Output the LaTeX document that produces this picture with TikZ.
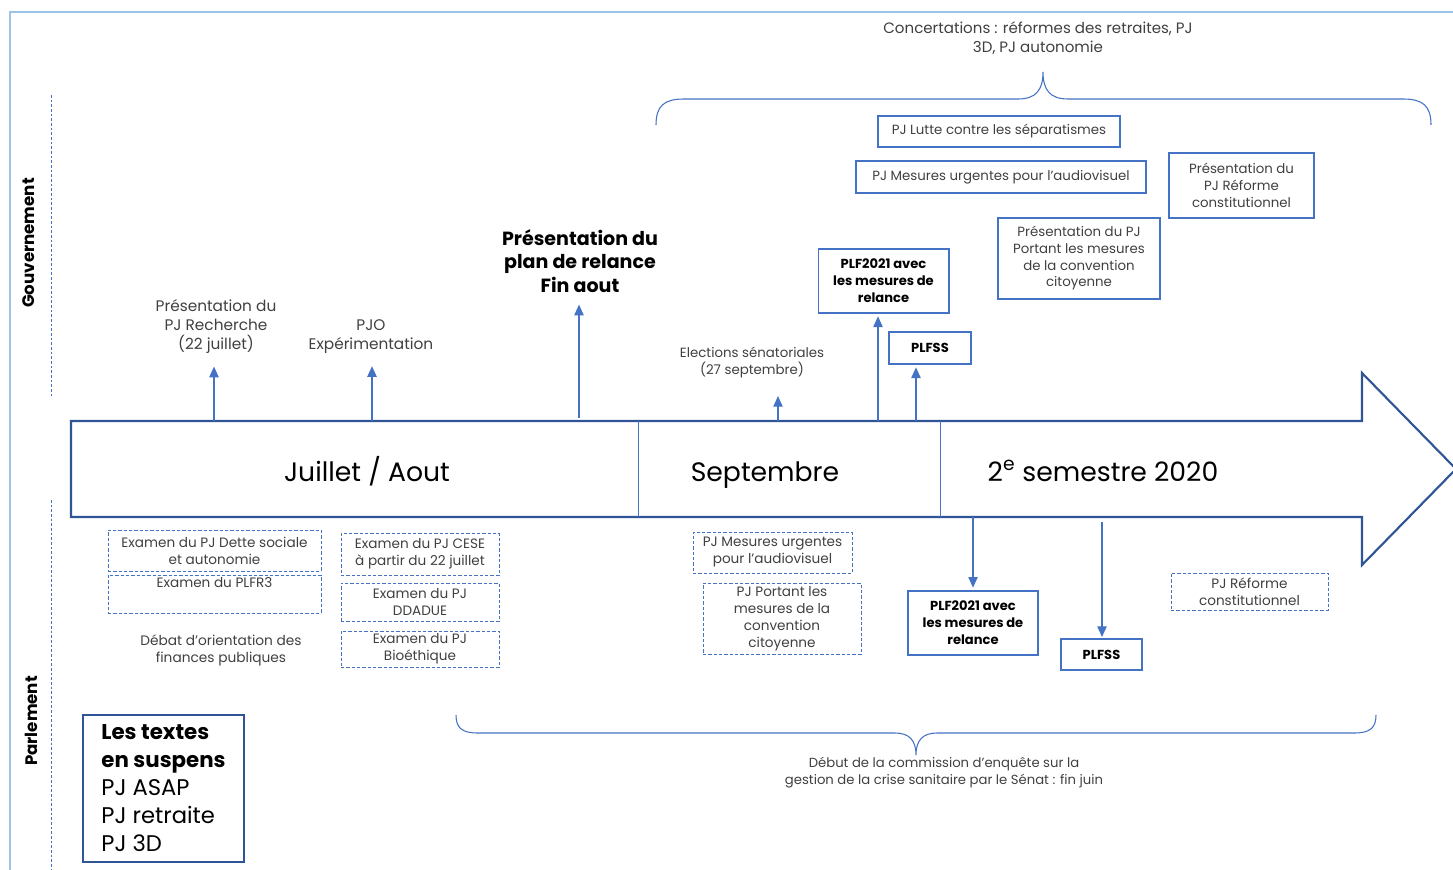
\documentclass[tikz,border=0pt]{standalone}
\usepackage{fontspec}
\setmainfont{Poppins}
\usetikzlibrary{arrows.meta}
\definecolor{frameblue}{HTML}{9DC3E6}
\definecolor{boxblue}{HTML}{4472C4}
\definecolor{arrowblue}{HTML}{2F5597}
\definecolor{txtgrey}{HTML}{404040}
\tikzset{
  lbl/.style={align=center, text=txtgrey, inner sep=0pt, font=\fontsize{11.5}{14.25}\selectfont},
  govbox/.style={draw=boxblue, line width=1pt, align=center, text=txtgrey, inner sep=1pt, font=\fontsize{10}{12.5}\selectfont},
  boldbox/.style={govbox, text=black, font=\bfseries\fontsize{9.8}{12.75}\selectfont},
  parbox/.style={draw=boxblue, line width=0.6pt, dash pattern=on 2.5pt off 1.5pt, align=center, text=txtgrey, inner sep=1pt, font=\fontsize{10.2}{12.75}\selectfont},
  month/.style={text=black, anchor=base, font=\fontsize{20}{24}\selectfont},
  side/.style={rotate=90, font=\bfseries\fontsize{12.5}{14}\selectfont},
  up/.style={draw=boxblue, line width=0.9pt, -{Triangle[length=8pt,width=7pt]}},
  brace/.style={draw=boxblue, line width=0.8pt},
}
\begin{document}
\begin{tikzpicture}[x=0.75pt, y=-0.75pt]
  \useasboundingbox (0,0) rectangle (1453,870);

  %% frame and side titles
  \draw[frameblue, line width=2.2pt] (10,870) -- (10,12) -- (1460,12);
  \draw[boxblue, line width=0.6pt, dash pattern=on 2pt off 1.5pt] (51,95) -- (51,397);
  \draw[boxblue, line width=0.6pt, dash pattern=on 2pt off 1.5pt] (51,500) -- (51,870);
  \node[side] (gouv) at (29,243) {Gouvernement};
  \node[side] (parl) at (31,721) {Parlement};

  %% the timeline arrow
  \draw[arrowblue, line width=1.6pt, fill=white] (71,421) -- (1362,421) -- (1362,373) -- (1456,469)
    -- (1362,565) -- (1362,517) -- (71,517) -- cycle;
  \draw[boxblue, line width=0.7pt] (638,421) -- (638,517);
  \draw[boxblue, line width=0.7pt] (940,421) -- (940,517);
  \node[month] (juil) at (367,481) {Juillet / Aout};
  \node[month] (sept) at (765,481) {Septembre};
  \node[month] (sem) at (1103,481) {2\textsuperscript{e} semestre 2020};

  %% Gouvernement
  \node[lbl] (rech) at (216,326) {Présentation du\\PJ Recherche\\(22 juillet)};
  \node[lbl] (pjo) at (371,337) {PJO\\Expérimentation};
  \node[lbl, text=black, font=\bfseries\fontsize{14.3}{17.5}\selectfont] (relance) at (580,261) {Présentation du\\plan de relance\\Fin aout};
  \node[lbl, font=\fontsize{10}{12.75}\selectfont] (elect) at (752,363) {Elections sénatoriales\\(27 septembre)};
  \node[boldbox, minimum width=98pt, minimum height=48pt] (plfgov) at (883.5,281) {PLF2021 avec\\les mesures de\\relance};
  \node[boldbox, minimum width=61.5pt, minimum height=24pt] (plfssgov) at (930,348) {PLFSS};
  \node[govbox, minimum width=121.5pt, minimum height=60.75pt] (convgov) at (1079,258.5) {Présentation du PJ\\Portant les mesures\\de la convention\\citoyenne};
  \node[govbox, minimum width=108.75pt, minimum height=48.75pt] (refgov) at (1241.5,185.5) {Présentation du\\PJ Réforme\\constitutionnel};
  \node[govbox, minimum width=217.5pt, minimum height=24pt] (audiogov) at (1001,177) {PJ Mesures urgentes pour l'audiovisuel};
  \node[govbox, minimum width=181.5pt, minimum height=23.25pt] (lutte) at (999,131.5) {PJ Lutte contre les séparatismes};
  \node[lbl, font=\fontsize{11.3}{14.25}\selectfont] (concert) at (1038,38) {Concertations : réformes des retraites, PJ\\3D, PJ autonomie};

  \coordinate (rechfoot) at (214,421);
  \coordinate (pjofoot) at (372,421);
  \coordinate (relancefoot) at (579,418);
  \coordinate (electfoot) at (778,421);
  \coordinate (plfgovfoot) at (878,421);
  \coordinate (plfssgovfoot) at (916,421);
  \draw[up, shorten >=10pt] (rechfoot) -- (rechfoot |- rech.south);
  \draw[up, shorten >=9pt] (pjofoot) -- (pjofoot |- pjo.south);
  \draw[up, shorten >=9pt] (relancefoot) -- (relancefoot |- relance.south);
  \draw[up, shorten >=13pt] (electfoot) -- (electfoot |- elect.south);
  \draw[up, shorten >=2pt] (plfgovfoot) -- (plfgovfoot |- plfgov.south);
  \draw[up, shorten >=2pt] (plfssgovfoot) -- (plfssgovfoot |- plfssgov.south);

  %% brace over the concertations
  \draw[brace] (656,125) .. controls (656,106) and (664,99) .. (684,99) -- (1018,99)
    .. controls (1036,99) and (1043,90) .. (1043,72) .. controls (1043,90) and (1050,99) .. (1068,99)
    -- (1403,99) .. controls (1423,99) and (1431,106) .. (1431,125);

  %% Parlement
  \node[parbox, minimum width=159.75pt, minimum height=30.75pt] (dette) at (214.5,550.5) {Examen du PJ Dette sociale\\et autonomie};
  \node[parbox, minimum width=159.75pt, minimum height=28.5pt] (plfr) at (214.5,594) {Examen du PLFR3\\\strut};
  \node[lbl, font=\fontsize{10.3}{12.75}\selectfont] (debat) at (221,650) {Débat d'orientation des\\finances publiques};
  \node[parbox, minimum width=118.5pt, minimum height=31.5pt] (cese) at (420,554) {Examen du PJ CESE\\à partir du 22 juillet};
  \node[parbox, minimum width=118.5pt, minimum height=28.5pt] (ddadue) at (420,602) {Examen du PJ\\DDADUE};
  \node[parbox, minimum width=118.5pt, minimum height=27pt] (bioeth) at (420,649) {Examen du PJ\\Bioéthique};
  \node[parbox, minimum width=119.25pt, minimum height=30.75pt] (audiopar) at (772.5,552.5) {PJ Mesures urgentes\\pour l'audiovisuel};
  \node[parbox, minimum width=118.5pt, minimum height=53.25pt] (convpar) at (782,618.5) {PJ Portant les\\mesures de la\\convention\\citoyenne};
  \node[boldbox, minimum width=97.5pt, minimum height=48pt] (plfpar) at (973,623) {PLF2021 avec\\les mesures de\\relance};
  \node[boldbox, minimum width=60.75pt, minimum height=23.25pt] (plfsspar) at (1101.5,654.5) {PLFSS};
  \node[parbox, minimum width=117.75pt, minimum height=27.75pt] (refpar) at (1249.5,591.5) {PJ Réforme\\constitutionnel};

  \coordinate (plfparhead) at (973,517);
  \coordinate (plfssparhead) at (1102,522);
  \draw[up, shorten >=2pt] (plfparhead) -- (plfparhead |- plfpar.north);
  \draw[up, shorten >=1pt] (plfssparhead) -- (plfssparhead |- plfsspar.north);

  \node[draw=arrowblue, line width=1.5pt, align=left, anchor=north west, inner sep=0pt,
    minimum width=120.75pt, minimum height=110.25pt, font=\fontsize{17}{21}\selectfont] (textes) at (82,714)
    {\textbf{\fontsize{16}{21}\selectfont Les textes}\\\textbf{\fontsize{16}{21}\selectfont en suspens}\\PJ ASAP\\PJ retraite\\PJ 3D};

  %% brace under the commission
  \draw[brace] (456,715) .. controls (456,728) and (462,733) .. (478,733) -- (895,733)
    .. controls (909,733) and (916,740) .. (916,755) .. controls (916,740) and (923,733) .. (937,733)
    -- (1354,733) .. controls (1370,733) and (1376,728) .. (1376,715);
  \node[lbl, font=\fontsize{9.9}{12.75}\selectfont] (commission) at (944,773) {Début de la commission d'enquête sur la\\gestion de la crise sanitaire par le Sénat : fin juin};
\end{tikzpicture}
\end{document}
